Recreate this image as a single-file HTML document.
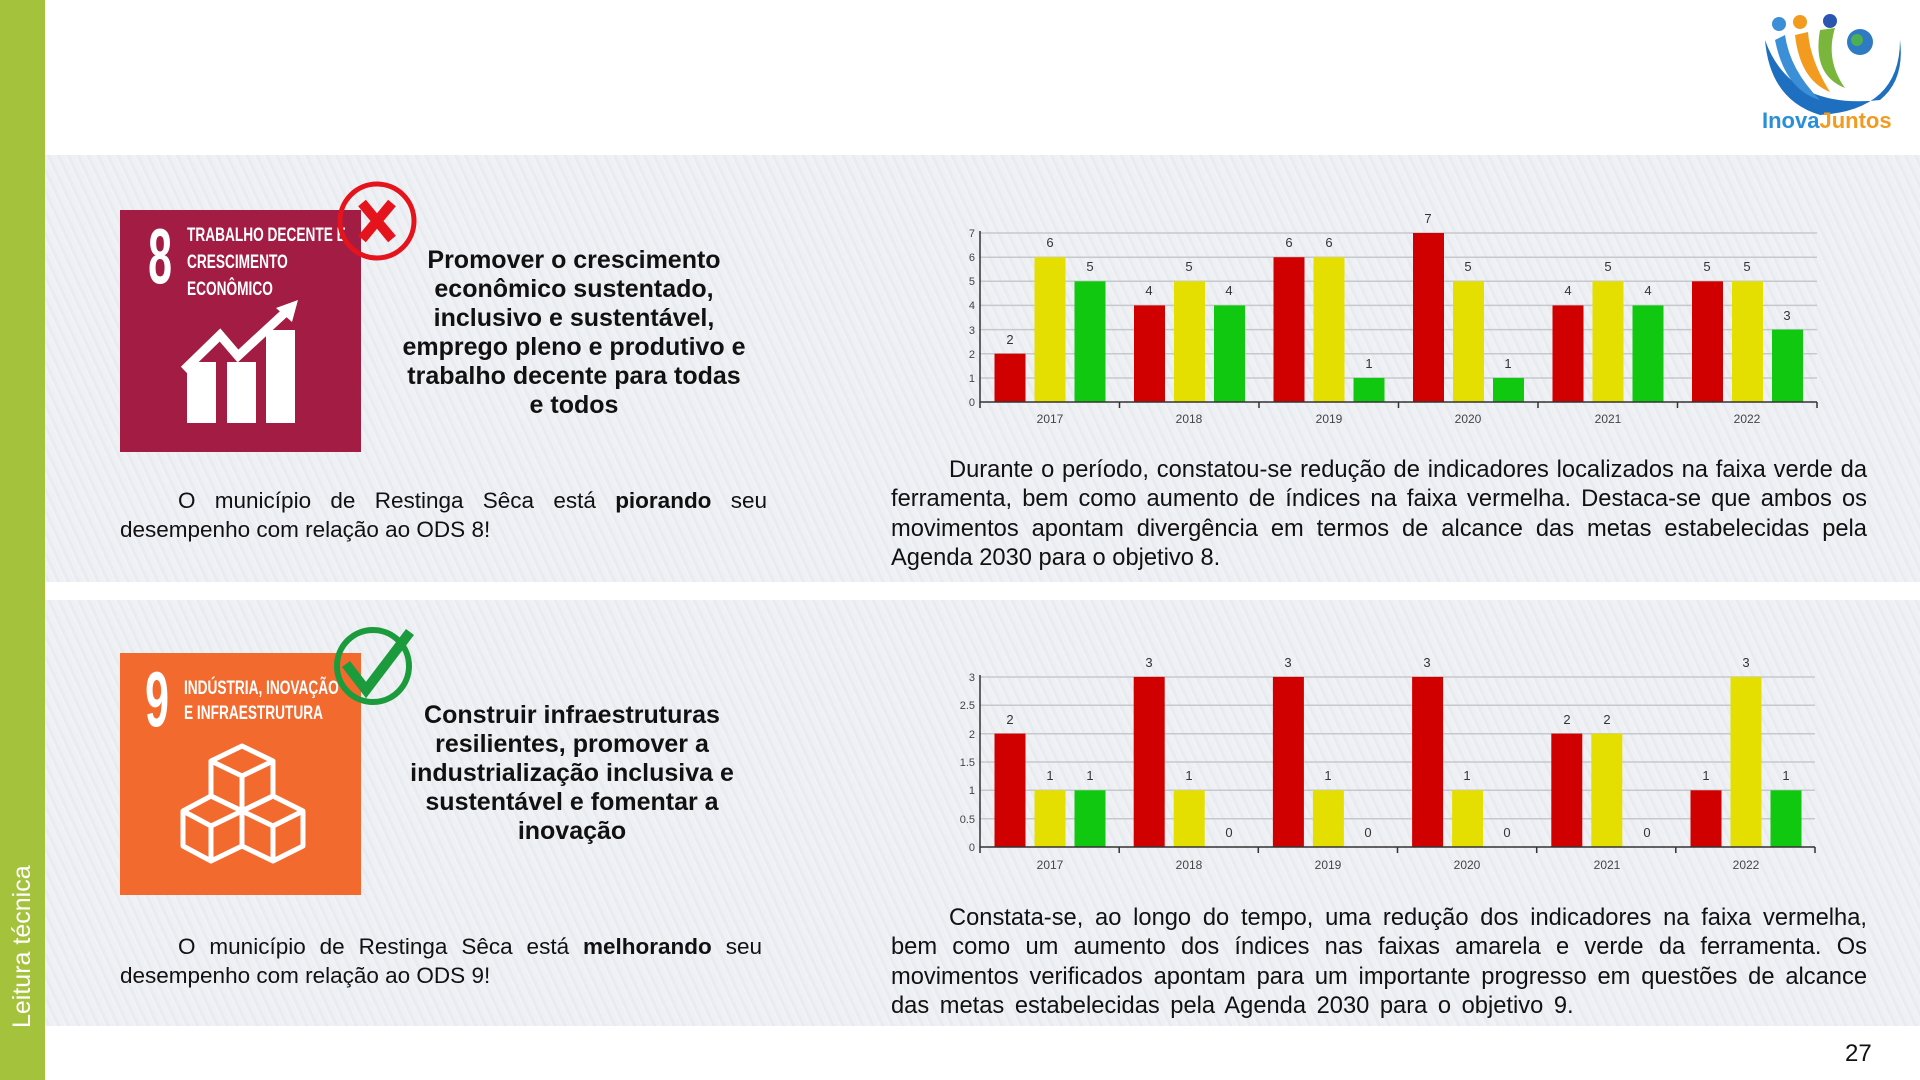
<!DOCTYPE html>
<html><head><meta charset="utf-8"><style>
html,body{margin:0;padding:0;width:1920px;height:1080px;overflow:hidden;background:#fff;font-family:"Liberation Sans",sans-serif;}
.abs{position:absolute}
.panel{position:absolute;left:45px;width:1875px;background:#eceef2;background-image:repeating-linear-gradient(65deg,rgba(255,255,255,0.25) 0 2px,rgba(215,220,230,0.18) 2px 5px,rgba(255,255,255,0.12) 5px 9px);}
.title{position:absolute;width:350px;text-align:center;font-weight:bold;font-size:25px;line-height:29px;color:#111;}
.body{position:absolute;font-size:22.5px;line-height:29.3px;color:#111;text-align:justify;}
.body p{margin:0;text-indent:58px;text-align-last:left}
.rb{font-size:23.7px}
</style></head><body>
<div class="abs" style="left:0;top:0;width:45px;height:1080px;background:#a5c23c"></div>
<div class="abs" style="left:8px;top:1028px;transform:rotate(-90deg);transform-origin:0 0;color:#fff;font-size:25px;white-space:nowrap">Leitura técnica</div>
<div class="panel" style="top:155px;height:427px"></div>
<div class="panel" style="top:600px;height:426px"></div>
<div class="abs" style="left:1845px;top:1040px;font-size:24px;color:#111">27</div>

<div class="title" style="left:399px;top:246px">Promover o crescimento econômico sustentado, inclusivo e sustentável, emprego pleno e produtivo e trabalho decente para todas e todos</div>
<div class="title" style="left:397px;top:701px">Construir infraestruturas resilientes, promover a industrialização inclusiva e sustentável e fomentar a inovação</div>

<div class="body" style="left:120px;top:486px;width:647px"><p>O município de Restinga Sêca está <b>piorando</b> seu desempenho com relação ao ODS 8!</p></div>
<div class="body" style="left:120px;top:932px;width:642px"><p>O município de Restinga Sêca está <b>melhorando</b> seu desempenho com relação ao ODS 9!</p></div>
<div class="body rb" style="left:891px;top:456px;width:976px"><p>Durante o período, constatou-se redução de indicadores localizados na faixa verde da ferramenta, bem como aumento de índices na faixa vermelha. Destaca-se que ambos os movimentos apontam divergência em termos de alcance das metas estabelecidas pela Agenda 2030 para o objetivo 8.</p></div>
<div class="body rb" style="left:891px;top:904px;width:976px;word-spacing:4px"><p>Constata-se, ao longo do tempo, uma redução dos indicadores na faixa vermelha, bem como um aumento dos índices nas faixas amarela e verde da ferramenta. Os movimentos verificados apontam para um importante progresso em questões de alcance das metas estabelecidas pela Agenda 2030 para o objetivo 9.</p></div>

<svg class="abs" style="left:0;top:0" width="1920" height="1080" font-family="Liberation Sans,sans-serif">
<!-- SDG 8 -->
<rect x="120" y="210" width="241" height="242" fill="#a21c44"/>
<text fill="#fff" font-size="78" font-weight="bold" transform="translate(160 283) scale(0.55 1)" text-anchor="middle">8</text>
<text fill="#fff" font-size="19" font-weight="bold" transform="translate(187 241) scale(0.72 1)"><tspan x="0" y="0">TRABALHO DECENTE E</tspan><tspan x="0" y="27">CRESCIMENTO</tspan><tspan x="0" y="54">ECONÔMICO</tspan></text>
<g fill="#fff"><rect x="187" y="362" width="29" height="61"/><rect x="227" y="362" width="29" height="61"/><rect x="266" y="330" width="29" height="93"/></g>
<polyline points="184,370 220,335 238,356 290,308" fill="none" stroke="#fff" stroke-width="9"/>
<polygon points="298,300 276,308 292,322" fill="#fff"/>
<circle cx="377" cy="221" r="37" fill="none" stroke="#e5141c" stroke-width="5"/>
<path d="M362 203 L392 239 M392 203 L362 239" stroke="#e5141c" stroke-width="10"/>
<!-- SDG 9 -->
<rect x="120" y="653" width="241" height="242" fill="#f26a2e"/>
<text fill="#fff" font-size="78" font-weight="bold" transform="translate(157 726) scale(0.55 1)" text-anchor="middle">9</text>
<text fill="#fff" font-size="19" font-weight="bold" transform="translate(184 694) scale(0.72 1)"><tspan x="0" y="0">INDÚSTRIA, INOVAÇÃO</tspan><tspan x="0" y="25">E INFRAESTRUTURA</tspan></text>
<g fill="none" stroke="#fff" stroke-width="5" stroke-linejoin="round">
<path d="M211 761 L242 746 L273 761 L242 776 Z M211 761 L211 796 L242 811 L273 796 L273 761 M242 776 L242 811"/>
<path d="M183 811 L211 796 L242 811 L242 846 L211 861 L183 846 Z M183 811 L211 826 L242 811 M211 826 L211 861"/>
<path d="M242 811 L273 796 L303 811 L303 846 L273 861 L242 846 M242 811 L273 826 L303 811 M273 826 L273 861"/>
</g>
<circle cx="373" cy="666" r="36" fill="none" stroke="#1b9b3c" stroke-width="6"/>
<path d="M346 664 L366 690 L410 632" fill="none" stroke="#1b9b3c" stroke-width="10"/>
<!-- logo -->
<path d="M1765 40 Q1790 110 1880 100 Q1905 80 1900 40 Q1900 110 1820 115 Q1770 100 1765 40Z" fill="#1f6fc0"/>
<path d="M1775 40 Q1785 90 1820 100 Q1790 70 1785 35Z" fill="#3b8fd6"/>
<path d="M1795 35 Q1800 80 1830 92 Q1810 60 1808 32Z" fill="#f29b1f"/>
<path d="M1820 30 Q1812 75 1845 88 Q1825 60 1835 28Z" fill="#7ab63c"/>
<circle cx="1779" cy="24" r="7" fill="#3b8fd6"/><circle cx="1800" cy="22" r="7" fill="#f29b1f"/><circle cx="1830" cy="21" r="7" fill="#2a55b0"/>
<circle cx="1860" cy="42" r="13" fill="#2e7bc4"/><circle cx="1857" cy="40" r="6" fill="#4caf50"/>
<text x="1762" y="128" font-size="22" font-weight="bold" fill="#2a8fd8">Inova<tspan fill="#f29b1f">Juntos</tspan></text>

<!-- Chart 1 -->
<g stroke="#c6c9cc" stroke-width="1.5">
<line x1="980" x2="1817" y1="378" y2="378"/><line x1="980" x2="1817" y1="353.7" y2="353.7"/><line x1="980" x2="1817" y1="329.6" y2="329.6"/><line x1="980" x2="1817" y1="305.4" y2="305.4"/><line x1="980" x2="1817" y1="281.3" y2="281.3"/><line x1="980" x2="1817" y1="257.2" y2="257.2"/><line x1="980" x2="1817" y1="233" y2="233"/>
</g>
<g font-size="11" fill="#444" text-anchor="end"><text x="975" y="406">0</text><text x="975" y="382">1</text><text x="975" y="358">2</text><text x="975" y="334">3</text><text x="975" y="309">4</text><text x="975" y="285">5</text><text x="975" y="261">6</text><text x="975" y="237">7</text></g>
<g transform="translate(994.5 402)"><rect x="0" y="-48.3" width="31" height="48.3" fill="#d00000"/><rect x="40" y="-144.8" width="31" height="144.8" fill="#e5df00"/><rect x="80" y="-120.7" width="31" height="120.7" fill="#10c810"/></g>
<g transform="translate(1134 402)"><rect x="0" y="-96.6" width="31" height="96.6" fill="#d00000"/><rect x="40" y="-120.7" width="31" height="120.7" fill="#e5df00"/><rect x="80" y="-96.6" width="31" height="96.6" fill="#10c810"/></g>
<g transform="translate(1273.5 402)"><rect x="0" y="-144.8" width="31" height="144.8" fill="#d00000"/><rect x="40" y="-144.8" width="31" height="144.8" fill="#e5df00"/><rect x="80" y="-24.1" width="31" height="24.1" fill="#10c810"/></g>
<g transform="translate(1413 402)"><rect x="0" y="-169" width="31" height="169" fill="#d00000"/><rect x="40" y="-120.7" width="31" height="120.7" fill="#e5df00"/><rect x="80" y="-24.1" width="31" height="24.1" fill="#10c810"/></g>
<g transform="translate(1552.5 402)"><rect x="0" y="-96.6" width="31" height="96.6" fill="#d00000"/><rect x="40" y="-120.7" width="31" height="120.7" fill="#e5df00"/><rect x="80" y="-96.6" width="31" height="96.6" fill="#10c810"/></g>
<g transform="translate(1692 402)"><rect x="0" y="-120.7" width="31" height="120.7" fill="#d00000"/><rect x="40" y="-120.7" width="31" height="120.7" fill="#e5df00"/><rect x="80" y="-72.4" width="31" height="72.4" fill="#10c810"/></g>
<g font-size="13" fill="#333" text-anchor="middle">
<text x="1010" y="344">2</text><text x="1050" y="247">6</text><text x="1090" y="271">5</text>
<text x="1149" y="295">4</text><text x="1189" y="271">5</text><text x="1229" y="295">4</text>
<text x="1289" y="247">6</text><text x="1329" y="247">6</text><text x="1369" y="368">1</text>
<text x="1428" y="223">7</text><text x="1468" y="271">5</text><text x="1508" y="368">1</text>
<text x="1568" y="295">4</text><text x="1608" y="271">5</text><text x="1648" y="295">4</text>
<text x="1707" y="271">5</text><text x="1747" y="271">5</text><text x="1787" y="320">3</text>
</g>
<g stroke="#333" stroke-width="1.5"><line x1="980" y1="402" x2="1817" y2="402"/><line x1="980" y1="231" x2="980" y2="408"/>
<line x1="1119.5" y1="402" x2="1119.5" y2="408"/><line x1="1259" y1="402" x2="1259" y2="408"/><line x1="1398.5" y1="402" x2="1398.5" y2="408"/><line x1="1538" y1="402" x2="1538" y2="408"/><line x1="1677.5" y1="402" x2="1677.5" y2="408"/><line x1="1817" y1="402" x2="1817" y2="408"/></g>
<g font-size="12" fill="#444" text-anchor="middle"><text x="1050" y="423">2017</text><text x="1189" y="423">2018</text><text x="1329" y="423">2019</text><text x="1468" y="423">2020</text><text x="1608" y="423">2021</text><text x="1747" y="423">2022</text></g>

<!-- Chart 2 -->
<g stroke="#c6c9cc" stroke-width="1.5">
<line x1="980" x2="1815" y1="818.7" y2="818.7"/><line x1="980" x2="1815" y1="790.3" y2="790.3"/><line x1="980" x2="1815" y1="762" y2="762"/><line x1="980" x2="1815" y1="733.7" y2="733.7"/><line x1="980" x2="1815" y1="705.3" y2="705.3"/><line x1="980" x2="1815" y1="677" y2="677"/>
</g>
<g font-size="11" fill="#444" text-anchor="end"><text x="975" y="851">0</text><text x="975" y="823">0.5</text><text x="975" y="794">1</text><text x="975" y="766">1.5</text><text x="975" y="738">2</text><text x="975" y="709">2.5</text><text x="975" y="681">3</text></g>
<g transform="translate(994.5 847)"><rect x="0" y="-113.4" width="31" height="113.4" fill="#d00000"/><rect x="40" y="-56.7" width="31" height="56.7" fill="#e5df00"/><rect x="80" y="-56.7" width="31" height="56.7" fill="#10c810"/></g>
<g transform="translate(1133.7 847)"><rect x="0" y="-170.1" width="31" height="170.1" fill="#d00000"/><rect x="40" y="-56.7" width="31" height="56.7" fill="#e5df00"/></g>
<g transform="translate(1272.9 847)"><rect x="0" y="-170.1" width="31" height="170.1" fill="#d00000"/><rect x="40" y="-56.7" width="31" height="56.7" fill="#e5df00"/></g>
<g transform="translate(1412.1 847)"><rect x="0" y="-170.1" width="31" height="170.1" fill="#d00000"/><rect x="40" y="-56.7" width="31" height="56.7" fill="#e5df00"/></g>
<g transform="translate(1551.3 847)"><rect x="0" y="-113.4" width="31" height="113.4" fill="#d00000"/><rect x="40" y="-113.4" width="31" height="113.4" fill="#e5df00"/></g>
<g transform="translate(1690.5 847)"><rect x="0" y="-56.7" width="31" height="56.7" fill="#d00000"/><rect x="40" y="-170.1" width="31" height="170.1" fill="#e5df00"/><rect x="80" y="-56.7" width="31" height="56.7" fill="#10c810"/></g>
<g font-size="13" fill="#333" text-anchor="middle">
<text x="1010" y="724">2</text><text x="1050" y="780">1</text><text x="1090" y="780">1</text>
<text x="1149" y="667">3</text><text x="1189" y="780">1</text><text x="1229" y="837">0</text>
<text x="1288" y="667">3</text><text x="1328" y="780">1</text><text x="1368" y="837">0</text>
<text x="1427" y="667">3</text><text x="1467" y="780">1</text><text x="1507" y="837">0</text>
<text x="1567" y="724">2</text><text x="1607" y="724">2</text><text x="1647" y="837">0</text>
<text x="1706" y="780">1</text><text x="1746" y="667">3</text><text x="1786" y="780">1</text>
</g>
<g stroke="#333" stroke-width="1.5"><line x1="980" y1="847" x2="1815" y2="847"/><line x1="980" y1="675" x2="980" y2="853"/>
<line x1="1119.2" y1="847" x2="1119.2" y2="853"/><line x1="1258.3" y1="847" x2="1258.3" y2="853"/><line x1="1397.5" y1="847" x2="1397.5" y2="853"/><line x1="1536.7" y1="847" x2="1536.7" y2="853"/><line x1="1675.8" y1="847" x2="1675.8" y2="853"/><line x1="1815" y1="847" x2="1815" y2="853"/></g>
<g font-size="12" fill="#444" text-anchor="middle"><text x="1050" y="869">2017</text><text x="1189" y="869">2018</text><text x="1328" y="869">2019</text><text x="1467" y="869">2020</text><text x="1607" y="869">2021</text><text x="1746" y="869">2022</text></g>
</svg>
</body></html>
